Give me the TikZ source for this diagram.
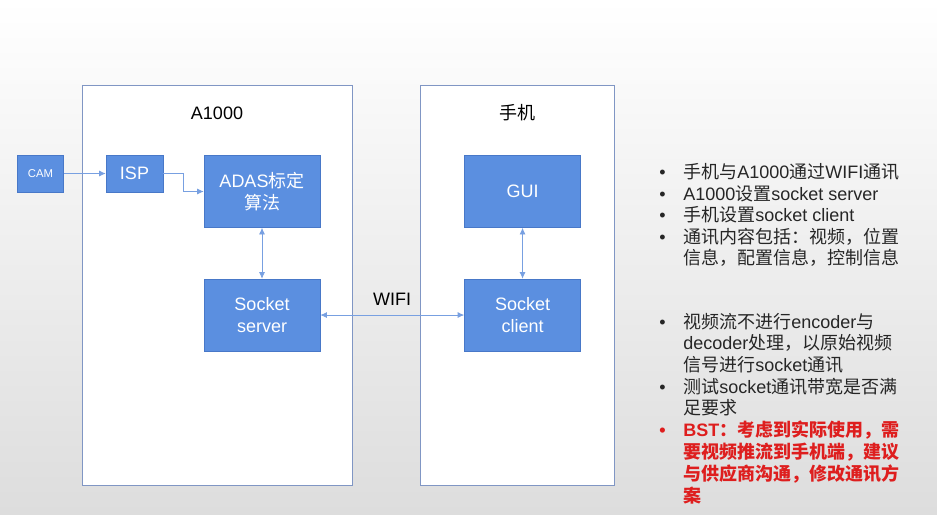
\documentclass[tikz,border=0pt]{standalone}
\usepackage{fontspec}
\setmainfont{Liberation Sans}
\newfontfamily\cjk{Noto Sans CJK SC}
\usetikzlibrary{positioning, arrows.meta}
\definecolor{boxblue}{RGB}{91,143,224}
\definecolor{boxedge}{RGB}{72,120,200}
\definecolor{paneledge}{RGB}{128,150,196}
\definecolor{linkblue}{RGB}{120,160,225}
\definecolor{bggray}{RGB}{221,221,221}
\definecolor{notegray}{RGB}{38,38,38}
\definecolor{notered}{RGB}{222,30,30}
\newcommand{\warn}[1]{{\color{notered}\bfseries #1}}
\newcommand{\dotmark}{\makebox[18pt][l]{\textbullet}}

\begin{document}
\begin{tikzpicture}[
    x=0.75pt, y=-0.75pt,
    >={Latex[length=5pt,width=4.5pt]},
    font=\fontsize{13.5}{16}\selectfont,
    block/.style={rectangle, draw=boxedge, fill=boxblue, text=white, minimum width=87pt, minimum height=54pt, align=center, inner sep=1pt},
    smallblock/.style={block, minimum width=34.5pt, minimum height=27.75pt, font=\fontsize{8.5}{10}\selectfont},
    panel/.style={rectangle, draw=paneledge, fill=white, line width=0.7pt, minimum height=300pt},
    link/.style={->, draw=linkblue, line width=0.6pt},
    note/.style={anchor=base west, inner sep=0pt, text=notegray}
  ]

  % --- BACKGROUND ---
  \useasboundingbox (0,0) rectangle (937,514);
  \shade[top color=white, bottom color=bggray] (0,0) rectangle (937,514);

  % --- PANELS ---
  \node[panel, minimum width=202.5pt] (a1000) at (217,285) {};
  \node[panel, minimum width=145.5pt] (phone) at (517,285) {};
  \node (a1000title) at (217,113) {A1000};
  \node (phonetitle) at (517,113) {\cjk 手机};

  % --- BLOCKS ---
  \node[block, minimum width=42.75pt, minimum height=27.75pt] (isp) at (134.5,173.5) {ISP};
  \node[smallblock, left=31.5pt of isp] (cam) {CAM};
  \node[block] (adas) at (262,191.5) {ADAS{\cjk 标定}\\{\cjk 算法}};
  \node[block, below=38.25pt of adas] (server) {Socket\\server};
  \node[block, right=108pt of adas] (gui) {GUI};
  \node[block, below=38.25pt of gui] (client) {Socket\\client};

  % --- LINKS ---
  \draw[link] (cam) -- (isp);
  \draw[link] (isp.east) -- ++(20,0) |- (adas.west);
  \draw[link, <->] (adas) -- (server);
  \draw[link, <->] (gui) -- (client);
  \draw[link, <->] (server) -- (client);
  \node (wifi) at (392,299) {WIFI};

  % --- NOTES ---
  \node[note] (notes) at (659,178.7) {\begin{tabular}[t]{@{}l@{}l@{}}
    \dotmark & {\cjk 手机与}A1000{\cjk 通过}WIFI{\cjk 通讯}\\
    \dotmark & A1000{\cjk 设置}socket server\\
    \dotmark & {\cjk 手机设置}socket client\\
    \dotmark & {\cjk 通讯内容包括：视频，位置}\\
             & {\cjk 信息，配置信息，控制信息}
  \end{tabular}};
  \node[note] (tests) at (659,328.4) {\begin{tabular}[t]{@{}l@{}l@{}}
    \dotmark & {\cjk 视频流不进行}encoder{\cjk 与}\\
             & decoder{\cjk 处理，以原始视频}\\
             & {\cjk 信号进行}socket{\cjk 通讯}\\
    \dotmark & {\cjk 测试}socket{\cjk 通讯带宽是否满}\\
             & {\cjk 足要求}\\
    \warn{\dotmark} & \warn{BST{\cjk ：考虑到实际使用，需}}\\
             & \warn{{\cjk 要视频推流到手机端，建议}}\\
             & \warn{{\cjk 与供应商沟通，修改通讯方}}\\
             & \warn{{\cjk 案}}
  \end{tabular}};

\end{tikzpicture}
\end{document}
